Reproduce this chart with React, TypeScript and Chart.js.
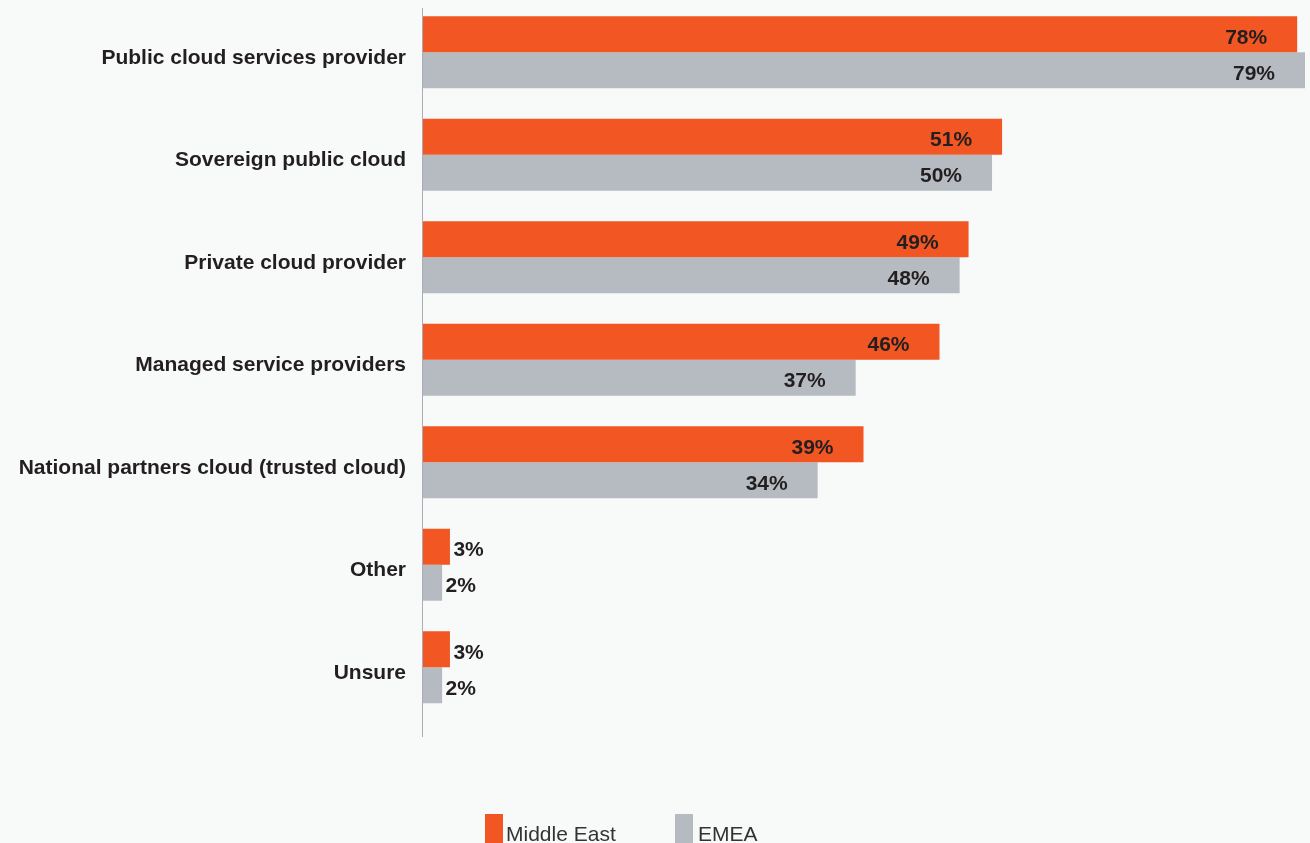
import React, { useEffect, useRef } from "react";
import { Chart, registerables } from "chart.js";

Chart.register(...registerables);

const categories = [
  "Public cloud services provider",
  "Sovereign public cloud",
  "Private cloud provider",
  "Managed service providers",
  "National partners cloud (trusted cloud)",
  "Other",
  "Unsure",
];
// bar lengths (percent)
const middleEastValues = [78.3, 51.9, 48.9, 46.3, 39.5, 2.5, 2.5];
const emeaValues = [79, 51.0, 48.1, 38.8, 35.4, 1.8, 1.8];
// printed labels
const middleEastLabels = ["78%", "51%", "49%", "46%", "39%", "3%", "3%"];
const emeaLabels = ["79%", "50%", "48%", "37%", "34%", "2%", "2%"];
const seriesNames = ["Middle East", "EMEA"];

const ORANGE = "#f15623";
const GREY = "#b6bbc2";
const BG = "#f8f9f9";
const TEXT = "#231f20";
const FONT = '"Liberation Sans", Arial, Helvetica, sans-serif';

export default function App() {
  const ref = useRef<HTMLCanvasElement | null>(null);

  useEffect(() => {
    const canvas = ref.current;
    if (!canvas) return;
    const labelSets = [middleEastLabels, emeaLabels];

    const bgPlugin = {
      id: "bg",
      beforeDraw(chart: any) {
        const ctx = chart.ctx;
        ctx.save();
        ctx.fillStyle = BG;
        ctx.fillRect(0, 0, chart.width, chart.height);
        ctx.restore();
      },
    };

    const overlayPlugin = {
      id: "overlay",
      afterDatasetsDraw(chart: any) {
        const ctx = chart.ctx;
        const xs = chart.scales.x;
        ctx.save();
        // axis line
        const ax = Math.round(xs.getPixelForValue(0)) + 0.5;
        ctx.strokeStyle = "#a9aeb6";
        ctx.lineWidth = 1;
        ctx.beginPath();
        ctx.moveTo(ax, 8);
        ctx.lineTo(ax, 737);
        ctx.stroke();
        // value labels
        ctx.font = `bold 21px ${FONT}`;
        ctx.fillStyle = TEXT;
        ctx.textBaseline = "alphabetic";
        chart.data.datasets.forEach((_: any, di: number) => {
          const meta = chart.getDatasetMeta(di);
          meta.data.forEach((bar: any, i: number) => {
            const txt = labelSets[di][i];
            const w = bar.x - bar.base;
            const y = bar.y + 9.3;
            if (w > 60) {
              ctx.textAlign = "right";
              ctx.fillText(txt, bar.x - 30, y);
            } else {
              ctx.textAlign = "left";
              ctx.fillText(txt, bar.x + 3.5, y);
            }
          });
        });
        // legend
        const items = [
          { name: seriesNames[0], color: ORANGE, bx: 485, tx: 506 },
          { name: seriesNames[1], color: GREY, bx: 675, tx: 698 },
        ];
        ctx.font = `21px ${FONT}`;
        ctx.textAlign = "left";
        items.forEach((it) => {
          ctx.fillStyle = it.color;
          ctx.fillRect(it.bx, 814, 18, 40);
          ctx.fillStyle = "#333333";
          ctx.fillText(it.name, it.tx, 841);
        });
        ctx.restore();
      },
    };

    const chart = new Chart(canvas, {
      type: "bar",
      data: {
        labels: categories,
        datasets: [
          {
            label: seriesNames[0],
            data: middleEastValues,
            backgroundColor: ORANGE,
            borderWidth: 0,
            barPercentage: 1,
            categoryPercentage: 72 / 102.5,
          },
          {
            label: seriesNames[1],
            data: emeaValues,
            backgroundColor: GREY,
            borderWidth: 0,
            barPercentage: 1,
            categoryPercentage: 72 / 102.5,
          },
        ],
      },
      options: {
        indexAxis: "y",
        responsive: false,
        animation: false,
        devicePixelRatio: 1,
        layout: { padding: { top: 1, bottom: 141.5, left: 0, right: 5 } },
        plugins: {
          legend: { display: false },
          tooltip: { enabled: false },
        },
        scales: {
          x: {
            display: false,
            min: 0,
            max: 79,
          },
          y: {
            grid: { display: false, drawTicks: false },
            border: { display: false },
            ticks: {
              color: TEXT,
              font: { family: FONT, size: 21, weight: "bold" },
              padding: 16,
              labelOffset: 5.5,
              autoSkip: false,
            },
            afterFit(scale: any) {
              scale.width = 422;
              scale.paddingTop = 0;
              scale.paddingBottom = 0;
            },
          },
        },
      },
      plugins: [bgPlugin, overlayPlugin],
    } as any);

    return () => chart.destroy();
  }, []);

  return (
    <div
      style={{
        position: "fixed",
        left: 0,
        top: 0,
        width: 1310,
        height: 860,
        background: BG,
      }}
    >
      <canvas ref={ref} width={1310} height={860} style={{ display: "block" }} />
    </div>
  );
}
